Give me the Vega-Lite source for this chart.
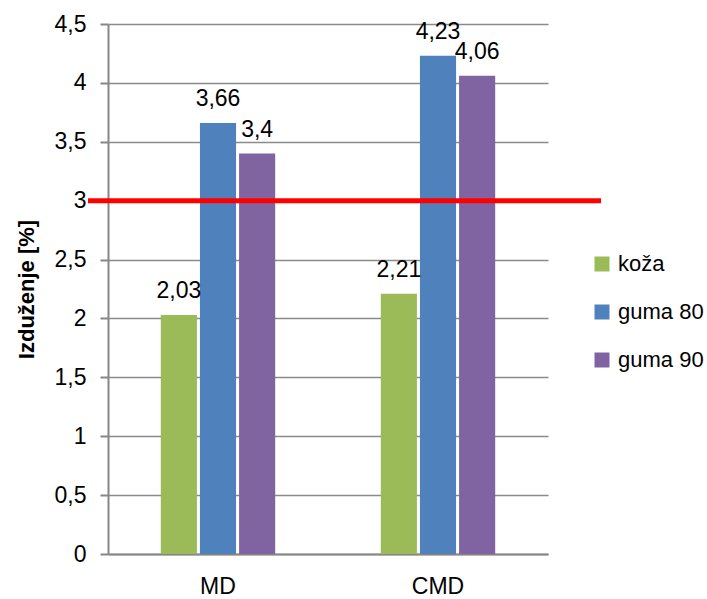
{
  "$schema": "https://vega.github.io/schema/vega-lite/v6.json",
  "width": 440,
  "height": 530,
  "autosize": {"type": "none"},
  "padding": {"left": 108, "top": 24, "right": 159, "bottom": 45},
  "config": {
    "locale": {"number": {"decimal": ",", "thousands": ".", "grouping": [3], "currency": ["", " €"]}},
    "view": {"stroke": null},
    "font": "Liberation Sans"
  },
  "data": {
    "values": [
      {"kategorija": "MD", "materijal": "koža", "vrijednost": 2.03},
      {"kategorija": "MD", "materijal": "guma 80", "vrijednost": 3.66},
      {"kategorija": "MD", "materijal": "guma 90", "vrijednost": 3.4},
      {"kategorija": "CMD", "materijal": "koža", "vrijednost": 2.21},
      {"kategorija": "CMD", "materijal": "guma 80", "vrijednost": 4.23},
      {"kategorija": "CMD", "materijal": "guma 90", "vrijednost": 4.06}
    ]
  },
  "layer": [
    {
      "mark": {"type": "bar"},
      "encoding": {
        "x": {
          "field": "kategorija", "type": "nominal", "sort": ["MD", "CMD"],
          "scale": {"paddingInner": 0.48, "paddingOuter": 0.24},
          "axis": {"title": null, "labelAngle": 0, "labelFontSize": 23, "labelColor": "#000000", "labelPadding": 21, "ticks": false, "domainColor": "#868686", "domainWidth": 2, "grid": false}
        },
        "xOffset": {
          "field": "materijal", "type": "nominal", "sort": ["koža", "guma 80", "guma 90"],
          "scale": {"paddingInner": 0.077, "paddingOuter": 0}
        },
        "y": {
          "field": "vrijednost", "type": "quantitative",
          "scale": {"domain": [0, 4.5], "nice": false},
          "axis": {
            "title": "Izduženje [%]", "titleFontSize": 22, "titleFontWeight": "bold", "titleColor": "#000000", "titlePadding": 16,
            "values": [0, 0.5, 1, 1.5, 2, 2.5, 3, 3.5, 4, 4.5], "format": "~g",
            "labelFontSize": 23, "labelColor": "#000000", "labelPadding": 14,
            "tickSize": 8, "tickColor": "#868686", "tickWidth": 2,
            "domainColor": "#868686", "domainWidth": 2,
            "grid": true, "gridColor": "#8a8a8a", "gridWidth": 1.7
          }
        },
        "color": {
          "field": "materijal", "type": "nominal",
          "scale": {"domain": ["koža", "guma 80", "guma 90"], "range": ["#9BBB59", "#4F81BD", "#8064A2"]},
          "legend": {
            "title": null, "orient": "none", "legendX": 483, "legendY": 229,
            "symbolType": "square", "symbolSize": 225, "symbolStrokeWidth": 0,
            "labelFontSize": 22, "labelColor": "#000000", "rowPadding": 26, "labelOffset": 5
          }
        }
      }
    },
    {
      "mark": {"type": "text", "fontSize": 23, "color": "#000000", "baseline": "alphabetic", "dy": -17},
      "encoding": {
        "x": {"field": "kategorija", "type": "nominal", "sort": ["MD", "CMD"]},
        "xOffset": {"field": "materijal", "type": "nominal", "sort": ["koža", "guma 80", "guma 90"]},
        "y": {"field": "vrijednost", "type": "quantitative"},
        "text": {"field": "vrijednost", "type": "quantitative", "format": "~g"}
      }
    },
    {
      "data": {"values": [{"granica": 3}]},
      "mark": {"type": "rule", "color": "#FF0000", "strokeWidth": 5, "xOffset": 53, "x2Offset": -20},
      "encoding": {
        "y": {"field": "granica", "type": "quantitative"},
        "x2": {"value": 0}
      }
    }
  ]
}
